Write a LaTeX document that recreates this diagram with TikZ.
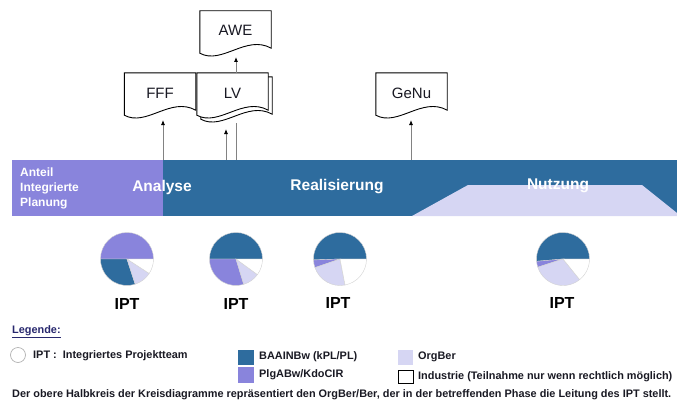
\documentclass[tikz,border=0pt]{standalone}
\usepackage{fontspec}
\setmainfont{Liberation Sans}
\usetikzlibrary{arrows.meta}
\definecolor{blueC}{RGB}{46,108,158}
\definecolor{purpleC}{RGB}{137,132,220}
\definecolor{lavC}{RGB}{214,214,243}
\definecolor{lineC}{RGB}{130,130,130}
\definecolor{legC}{RGB}{40,40,110}
\definecolor{txtC}{RGB}{25,25,35}
\tikzset{
  docbox/.style={minimum width=71pt, minimum height=37pt, inner sep=0pt,
                 font=\fontsize{15}{15}\selectfont, text=txtC},
  docline/.style={draw=black, line width=0.9pt, fill=white},
  conn/.style={draw=lineC, line width=0.8pt},
  arr/.style={conn, -{Latex[length=5pt,width=4pt,black]}},
  phase/.style={text=white, font=\fontsize{15.5}{15.5}\selectfont\bfseries},
  iptlbl/.style={text=black, font=\fontsize{16}{16}\selectfont\bfseries},
  legtext/.style={anchor=west, inner sep=0pt, text=txtC,
                  font=\fontsize{10.9}{11}\selectfont\bfseries},
  slice/.style={draw=gray!35, line width=0.4pt},
}
% document outline around a node: straight top and sides, wavy bottom edge
\newcommand\docoutline[1]{%
  \path[docline] (#1.south east) -- (#1.north east) -- (#1.north west)
    -- ([yshift=-5pt]#1.south west)
    .. controls +(22,12) and +(-25,-14) .. (#1.south east) -- cycle;}
% one pie wedge: centre, start angle, end angle, colour
\newcommand\piewedge[4]{%
  \path[slice, fill=#4] (#1) -- ++(#2:26.5pt)
    arc[start angle=#2, end angle=#3, radius=26.5pt] -- cycle;}
\begin{document}
\begin{tikzpicture}[x=1pt, y=-1pt]
\useasboundingbox (0,0) rectangle (677,404);

% phase bar
\fill[blueC] (163,160) rectangle (677,216);
\fill[purpleC] (12,160) rectangle (163,216);
\fill[lavC] (412,216) -- (468,185) -- (642,185) -- (677,213) -- (677,216) -- cycle;
\node[phase] (analyse) at (162,187) {Analyse};
\node[phase] (real) at (337,187) {Realisierung};
\node[phase] (nutz) at (558,186) {Nutzung};
\node[text=white, anchor=north west, inner sep=0pt, align=left,
      font=\fontsize{12}{15}\selectfont\bfseries] (anteil) at (20,168)
      {Anteil\\Integrierte\\Planung};

% documents
\node[docbox] (fff) at (160,91.5) {};
\docoutline{fff}
\node[docbox, text=txtC] at (160,93) {FFF};

\node[docbox] (lvback) at (236.5,95.5) {};
\docoutline{lvback}
\node[docbox] (lv) at (232.5,91.5) {};
\docoutline{lv}
\node[docbox] at (232.5,93) {LV};

\node[docbox] (awe) at (235.5,29.5) {};
\docoutline{awe}
\node[docbox] at (235.5,30) {AWE};

\node[docbox] (genu) at (411.5,91.5) {};
\docoutline{genu}
\node[docbox] at (411.5,93) {GeNu};

% connectors from the bar to the documents
\coordinate (f1) at (163,160);
\coordinate (l1) at (226,160);
\coordinate (l2) at (236,160);
\coordinate (g1) at (411,160);
\coordinate (lvtop) at (236,73);
\draw[arr] (f1) -- (163,120);
\draw[arr] (l1) -- (226,129);
\draw[conn] (l2) -- (236,123);
\draw[arr] (lvtop) -- (236,57);
\draw[arr] (g1) -- (411,120);

% pies
\coordinate (p1) at (127,259);
\coordinate (p2) at (236,259);
\coordinate (p3) at (340,259);
\coordinate (p4) at (563,259);
\piewedge{p1}{0}{180}{purpleC}\piewedge{p1}{180}{288}{blueC}\piewedge{p1}{288}{327}{lavC}\piewedge{p1}{327}{360}{white}
\piewedge{p2}{0}{180}{blueC}\piewedge{p2}{180}{287}{purpleC}\piewedge{p2}{287}{324}{lavC}\piewedge{p2}{324}{360}{white}
\piewedge{p3}{0}{182}{blueC}\piewedge{p3}{182}{199}{purpleC}\piewedge{p3}{199}{281}{lavC}\piewedge{p3}{281}{360}{white}
\piewedge{p4}{0}{185}{blueC}\piewedge{p4}{185}{198}{purpleC}\piewedge{p4}{198}{309}{lavC}\piewedge{p4}{309}{360}{white}
\node[iptlbl] (ipt1) at (127,304) {IPT};
\node[iptlbl] (ipt2) at (236,304) {IPT};
\node[iptlbl] (ipt3) at (338,303) {IPT};
\node[iptlbl] (ipt4) at (562,303) {IPT};

% legend
\node[legtext, text=legC] (leg) at (12,332) {\underline{Legende:}};
\draw[gray!60, line width=0.7pt] (18,355) circle[radius=7.5pt];
\node[legtext] (lipt) at (33,356) {IPT :\ \ Integriertes Projektteam};
\fill[blueC] (238,350) rectangle (254,365);
\fill[purpleC] (238,367) rectangle (254,383);
\fill[lavC] (398,350) rectangle (413,365);
\draw[black, line width=0.7pt] (398,370) rectangle (413,383);
\node[legtext] (lb) at (259,357) {BAAINBw (kPL/PL)};
\node[legtext] (lp) at (259,375) {PlgABw/KdoCIR};
\node[legtext] (lo) at (418,357) {OrgBer};
\node[legtext] (li) at (418,377) {Industrie (Teilnahme nur wenn rechtlich möglich)};
\node[legtext] (note) at (12,395) {Der obere Halbkreis der Kreisdiagramme repräsentiert den OrgBer/Ber, der in der betreffenden Phase die Leitung des IPT stellt.};
\end{tikzpicture}
\end{document}
